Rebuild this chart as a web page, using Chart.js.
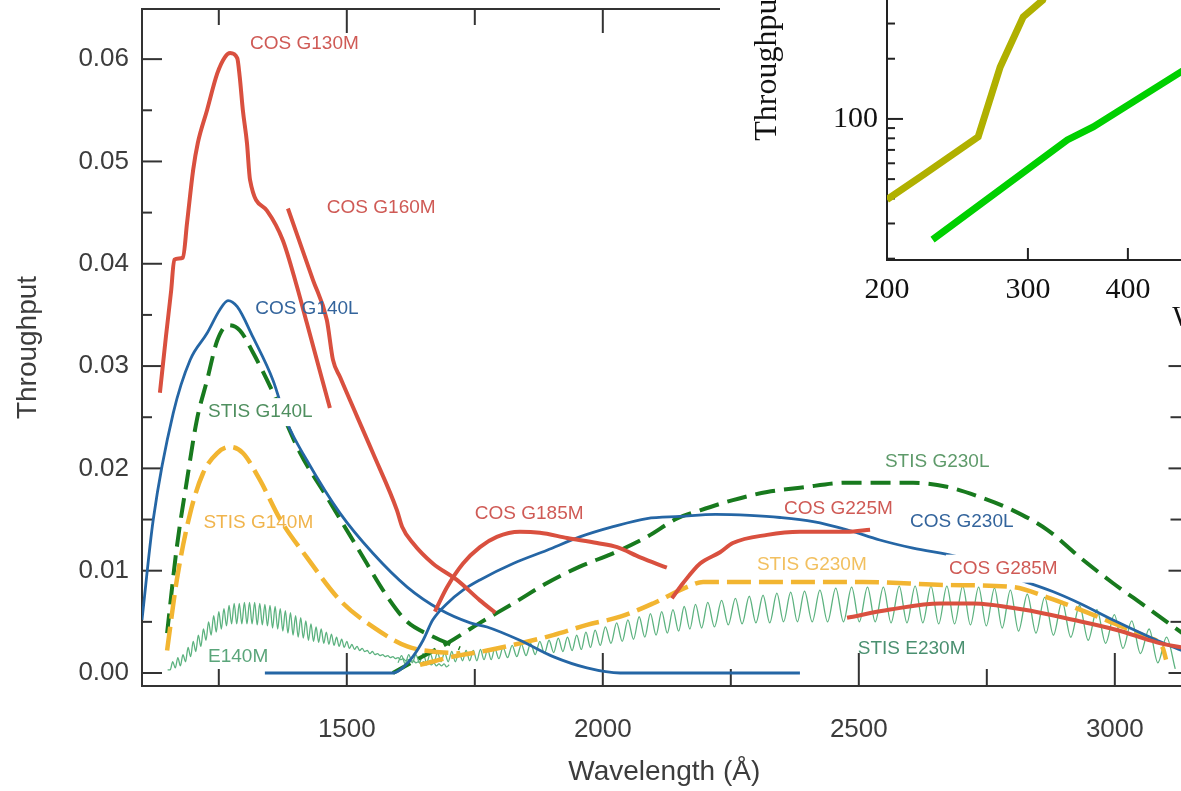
<!DOCTYPE html>
<html>
<head>
<meta charset="utf-8">
<title>Throughput</title>
<script src="https://cdn.jsdelivr.net/npm/chart.js@4.4.1/dist/chart.umd.min.js"></script>
<style>
	html, body { margin:0; padding:0; background:#fff; width:1181px; height:791px; overflow:hidden; position:relative; }
	#main { position:absolute; left:0; top:0; }
	#inset { position:absolute; left:720px; top:-135px; background:#fff; }
</style>
</head>
<body>
<canvas id="main" width="1240" height="791"></canvas>
<canvas id="inset" width="1000" height="480"></canvas>
<script>
(function(){
	// --- main panel: wavelength (Å) vs throughput ---
	const cosG130mWave = [1135,1147,1157,1163,1180,1188,1200,1209,1227,1247,1262,1272,1286,1291,1297,1305,1311,1344,1375,1403,1422,1467];
	const cosG130mThru = [0.0274,0.0330,0.0374,0.0404,0.0406,0.0440,0.0492,0.0518,0.0550,0.0586,0.0602,0.0606,0.0601,0.0582,0.0550,0.0518,0.0482,0.0452,0.0423,0.0377,0.0342,0.0259];

	const cosG160mWave = [1385,1434,1461,1473,1487,1551,1598,1608,1629,1668,1715,1760,1790];
	const cosG160mThru = [0.0454,0.0384,0.0345,0.0306,0.0289,0.0215,0.0159,0.0143,0.0127,0.0107,0.0091,0.0071,0.0059];

	const cosG185mWave = [1672,1696,1727,1760,1793,1838,1877,1930,1989,2028,2073,2125];
	const cosG185mThru = [0.0060,0.0084,0.0107,0.0123,0.0133,0.0138,0.0137,0.0132,0.0127,0.0123,0.0113,0.0103];

	const cosG225mWave = [2135,2157,2190,2229,2254,2321,2385,2477,2522];
	const cosG225mThru = [0.0073,0.0088,0.0107,0.0118,0.0127,0.0135,0.0138,0.0138,0.0140];

	const cosG285mWave = [2477,2561,2659,2723,2821,2918,3004,3082,3140];
	const cosG285mThru = [0.0054,0.0062,0.0068,0.0068,0.0062,0.0052,0.0042,0.0030,0.0024];

	const cosG140lWave = [1100,1122,1161,1194,1227,1252,1268,1286,1317,1356,1383,1422,1487,1551,1618,1682,1741,1774,1838,1903,1969,2034,2385];
	const cosG140lThru = [0.0052,0.0150,0.0254,0.0306,0.0332,0.0355,0.0364,0.0358,0.0328,0.0286,0.0245,0.0208,0.0156,0.0117,0.0084,0.0062,0.0049,0.0045,0.0032,0.0016,0.0005,0.0000,0.0000];

	const cosG230lWave = [1340,1590,1604,1629,1649,1668,1696,1727,1760,1825,1891,1955,2020,2086,2151,2220,2287,2346,2411,2477,2541,2606,2698,2815,2887,2932,3004,3082,3140];
	const cosG230lThru = [0.0000,0.0000,0.0003,0.0016,0.0032,0.0052,0.0068,0.0081,0.0091,0.0107,0.0120,0.0133,0.0143,0.0151,0.0153,0.0155,0.0154,0.0152,0.0148,0.0140,0.0130,0.0122,0.0113,0.0091,0.0078,0.0068,0.0050,0.0032,0.0020];

	const stisG140lWave = [1149,1168,1188,1207,1227,1247,1268,1291,1317,1356,1409,1461,1520,1584,1618,1662,1721];
	const stisG140lThru = [0.0039,0.0123,0.0189,0.0247,0.0286,0.0325,0.0340,0.0335,0.0313,0.0274,0.0215,0.0172,0.0123,0.0071,0.0050,0.0037,0.0024];

	const stisG230lWave = [1590,1629,1696,1760,1825,1891,1955,2020,2086,2145,2190,2254,2321,2385,2477,2606,2672,2737,2801,2868,2932,2996,3063,3140];
	const stisG230lThru = [0.0000,0.0011,0.0029,0.0049,0.0068,0.0088,0.0104,0.0117,0.0133,0.0151,0.0159,0.0169,0.0177,0.0181,0.0186,0.0186,0.0182,0.0172,0.0159,0.0140,0.0113,0.0088,0.0064,0.0036];

	const stisG140mWave = [1149,1168,1194,1219,1247,1272,1297,1330,1370,1422,1487,1551,1618,1668,1721];
	const stisG140mThru = [0.0022,0.0091,0.0156,0.0195,0.0215,0.0221,0.0215,0.0189,0.0150,0.0113,0.0071,0.0045,0.0026,0.0021,0.0019];

	const stisG230mWave = [1643,1707,1774,1838,1903,1969,2034,2098,2164,2196,2346,2508,2672,2801,2868,2932,2996,3063,3094,3100];
	const stisG230mThru = [0.0008,0.0016,0.0022,0.0029,0.0037,0.0047,0.0055,0.0068,0.0084,0.0089,0.0089,0.0089,0.0086,0.0084,0.0074,0.0062,0.0049,0.0035,0.0024,0.0013];

	// echelle modes: peaks and troughs of the ripple
	const e140mWave = [
		1150,1155,1160,1165,1170,1175,1180,1185,1190,1195,
		1200,1205,1210,1215,1220,1225,1230,1235,1240,1245,
		1250,1255,1260,1265,1270,1275,1280,1285,1290,1295,
		1300,1305,1310,1315,1320,1325,1330,1335,1340,1345,
		1350,1355,1360,1365,1370,1375,1380,1385,1390,1395,
		1400,1405,1410,1415,1420,1425,1430,1435,1440,1445,
		1450,1455,1460,1465,1470,1475,1480,1485,1490,1495,
		1500,1505,1510,1515,1520,1525,1530,1535,1540,1545,
		1550,1555,1560,1565,1570,1575,1580,1585,1590,1595,
		1600,1605,1610,1615,1620,1625,1630,1635,1640,1645,
		1650,1655,1660,1665,1670,1675,1680,1685,1690,1695,1700];
	const e140mThru = [
		0.0003,0.0003,0.0011,0.0005,0.0015,0.0007,0.0018,0.0011,0.0025,0.0016,
		0.0031,0.0021,0.0037,0.0026,0.0043,0.0032,0.0050,0.0037,0.0056,0.0040,
		0.0060,0.0043,0.0063,0.0046,0.0066,0.0048,0.0068,0.0048,0.0068,0.0048,
		0.0069,0.0048,0.0069,0.0048,0.0069,0.0047,0.0068,0.0047,0.0067,0.0046,
		0.0066,0.0044,0.0065,0.0043,0.0063,0.0041,0.0061,0.0039,0.0059,0.0037,
		0.0056,0.0035,0.0054,0.0034,0.0051,0.0032,0.0048,0.0031,0.0045,0.0030,
		0.0043,0.0029,0.0040,0.0028,0.0038,0.0027,0.0035,0.0026,0.0033,0.0025,
		0.0031,0.0024,0.0028,0.0023,0.0026,0.0022,0.0024,0.0021,0.0022,0.0019,
		0.0021,0.0018,0.0019,0.0017,0.0018,0.0016,0.0017,0.0015,0.0016,0.0014,
		0.0015,0.0013,0.0014,0.0012,0.0013,0.0011,0.0012,0.0010,0.0011,0.0009,
		0.0011,0.0008,0.0010,0.0008,0.0010,0.0007,0.0009,0.0007,0.0009,0.0006,0.0008];

	const e230mWave = [
		1600,1607,1614,1621,1628,1635,1642,1649,1656,1663,1670,1677,1684,1691,1698,1705,1712,1719,1726,1733,1740,1747,1754,1761,1768,1775,1782,1789,
		1797,1805,1814,1823,1832,1841,1850,1859,1868,1877,1886,1895,1904,1913,1922,1931,1940,1949,1958,1967,1976,1985,
		1995,2005,2016,2027,2038,2049,2060,2071,2082,2093,2104,2115,2126,2137,2148,2159,2170,2181,
		2193,2205,2218,2232,2245,2259,2272,2286,2299,2313,2326,2340,2353,2367,2380,2394,
		2409,2424,2439,2455,2470,2486,2501,2517,2532,2548,2563,2579,2594,2610,2625,2641,2656,2672,2687,2703,2718,2734,2749,2765,2780,2796,
		2812,2829,2846,2863,2880,2897,2914,2931,2948,2965,2982,2999,3016,3033,3050,3067,3084,3101,3118];
	const e230mThru = [
		0.0010,0.0017,0.0009,0.0018,0.0010,0.0018,0.0010,0.0019,0.0010,0.0019,0.0010,0.0020,0.0011,0.0020,0.0011,0.0021,0.0011,0.0021,0.0012,0.0022,0.0012,0.0022,0.0012,0.0023,0.0013,0.0023,0.0013,0.0024,
		0.0014,0.0025,0.0015,0.0027,0.0016,0.0028,0.0017,0.0029,0.0018,0.0031,0.0019,0.0032,0.0020,0.0034,0.0021,0.0035,0.0022,0.0037,0.0023,0.0040,0.0025,0.0042,
		0.0027,0.0045,0.0029,0.0049,0.0031,0.0052,0.0033,0.0055,0.0035,0.0058,0.0037,0.0060,0.0039,0.0062,0.0041,0.0065,0.0043,0.0067,
		0.0044,0.0069,0.0045,0.0071,0.0047,0.0073,0.0048,0.0075,0.0049,0.0076,0.0049,0.0078,0.0050,0.0079,0.0050,0.0080,
		0.0050,0.0081,0.0050,0.0083,0.0050,0.0084,0.0050,0.0084,0.0050,0.0084,0.0049,0.0085,0.0049,0.0085,0.0049,0.0085,0.0048,0.0085,0.0048,0.0085,0.0047,0.0084,0.0046,0.0083,0.0044,0.0081,
		0.0041,0.0077,0.0039,0.0074,0.0037,0.0070,0.0035,0.0066,0.0032,0.0062,0.0029,0.0057,0.0024,0.0051,0.0019,0.0043,0.0010,0.0035,0.0004];

	const xTicks = [1500, 2000, 2500, 3000];
	const xMinorTicks = [1250, 1750, 2250, 2750];
	const yTicks = [0, 0.01, 0.02, 0.03, 0.04, 0.05, 0.06];
	const yMinorTicks = [0.005, 0.015, 0.025, 0.035, 0.045, 0.055];

	// --- inset (log-log), partly cut off by the frame ---
	const insetOliveX = [200, 222, 260, 277, 296, 313, 330];
	const insetOliveY = [39.5, 52.5, 81.3, 182, 324, 393, 700];
	const insetGreenX = [228, 336, 362, 466, 568];
	const insetGreenY = [24.9, 78.5, 91.2, 172, 282];
	const insetXTicks = [200, 300, 400, 500];
	const insetYTicks = [100];
	const insetXMinor = [300, 400, 500, 600, 700, 800, 900, 1000];
	const insetYMinor = [20, 30, 40, 50, 60, 70, 80, 90, 200, 300, 400, 500, 600, 700, 800, 900];

	const SANS = '"Liberation Sans", Arial, Helvetica, sans-serif';
	const SERIF = '"Liberation Serif", "Times New Roman", serif';

	const RED = '#d9503f';
	const BLUE = '#2566a5';
	const DKGREEN = '#187a1e';
	const ORANGE = '#f2b531';
	const ECHELLE = '#5cb27f';

	// labels sit at (wavelength, throughput) of their left/middle point
	const curveLabels = [
		{text:'COS G130M', at:[1311, 0.0615], color:'#cf5a55'},
		{text:'COS G160M', at:[1461, 0.0455], color:'#cf5a55'},
		{text:'COS G140L', at:[1321, 0.0356], color:'#33649c'},
		{text:'STIS G140L', at:[1229, 0.0255], color:'#4f8f5f', box:true},
		{text:'STIS G140M', at:[1220, 0.0147], color:'#f0b44c'},
		{text:'E140M', at:[1229, 0.0016], color:'#5aa57a'},
		{text:'COS G185M', at:[1750, 0.0156], color:'#cf5a55'},
		{text:'COS G225M', at:[2354, 0.0161], color:'#cf5a55'},
		{text:'COS G230L', at:[2600, 0.0148], color:'#33649c'},
		{text:'STIS G230L', at:[2551, 0.0206], color:'#5e9a6a'},
		{text:'STIS G230M', at:[2301, 0.0106], color:'#f2c060'},
		{text:'COS G285M', at:[2676, 0.0102], color:'#cf5a55', box:true},
		{text:'STIS E230M', at:[2498, 0.0024], color:'#4a9070'}
	];

	function pts(xs, ys){
		return xs.map((x, i) => ({x: x, y: ys[i]}));
	}

	function curve(label, xs, ys, color, width, dash){
		return {
			label: label,
			data: pts(xs, ys),
			borderColor: color,
			borderWidth: width,
			borderDash: dash || [],
			borderCapStyle: 'butt',
			borderJoinStyle: 'round',
			pointRadius: 0,
			fill: false,
			cubicInterpolationMode: 'monotone'
		};
	}

	function tick(ctx, x1, y1, x2, y2){
		ctx.beginPath();
		ctx.moveTo(x1, y1);
		ctx.lineTo(x2, y2);
		ctx.stroke();
	}

	// frame with inward ticks on all four sides
	const mainFrame = {
		id: 'mainFrame',
		beforeDatasetsDraw(chart){
			const {ctx, chartArea: a, scales: {x, y}} = chart;
			ctx.save();
			ctx.strokeStyle = '#333';
			ctx.lineWidth = 2;
			ctx.strokeRect(a.left, a.top, a.right - a.left, a.bottom - a.top);
			yTicks.forEach(v => {
				const py = y.getPixelForValue(v);
				tick(ctx, a.left, py, a.left + 20, py);
				tick(ctx, a.right, py, a.right - 18, py);
			});
			yMinorTicks.forEach(v => {
				const py = y.getPixelForValue(v);
				tick(ctx, a.left, py, a.left + 10, py);
				tick(ctx, a.right, py, a.right - 16, py);
			});
			xTicks.forEach(v => {
				const px = x.getPixelForValue(v);
				tick(ctx, px, a.bottom, px, a.bottom - 33);
				tick(ctx, px, a.top, px, a.top + 24);
			});
			xMinorTicks.forEach(v => {
				const px = x.getPixelForValue(v);
				tick(ctx, px, a.bottom, px, a.bottom - 17);
				tick(ctx, px, a.top, px, a.top + 16);
			});
			ctx.restore();
		},
		afterDatasetsDraw(chart){
			const {ctx, scales: {x, y}} = chart;
			ctx.save();
			ctx.font = '19px ' + SANS;
			ctx.textAlign = 'left';
			ctx.textBaseline = 'middle';
			curveLabels.forEach(l => {
				const px = x.getPixelForValue(l.at[0]);
				const py = y.getPixelForValue(l.at[1]);
				if(l.box){
					const w = ctx.measureText(l.text).width;
					ctx.fillStyle = '#fff';
					ctx.fillRect(px - 3, py - 14, w + 6, 28);
				}
				ctx.fillStyle = l.color;
				ctx.fillText(l.text, px, py);
			});
			ctx.restore();
		}
	};

	new Chart(document.getElementById('main').getContext('2d'), {
		type: 'line',
		data: {
			datasets: [
				curve('COS G130M', cosG130mWave, cosG130mThru, RED, 4),
				curve('COS G160M', cosG160mWave, cosG160mThru, RED, 4),
				curve('COS G185M', cosG185mWave, cosG185mThru, RED, 4),
				curve('COS G225M', cosG225mWave, cosG225mThru, RED, 4),
				curve('COS G285M', cosG285mWave, cosG285mThru, RED, 4),
				curve('COS G140L', cosG140lWave, cosG140lThru, BLUE, 2.8),
				curve('COS G230L', cosG230lWave, cosG230lThru, BLUE, 2.8),
				curve('STIS G140M', stisG140mWave, stisG140mThru, ORANGE, 4.5, [24, 8]),
				curve('STIS G230M', stisG230mWave, stisG230mThru, ORANGE, 4.5, [24, 8]),
				curve('STIS G140L', stisG140lWave, stisG140lThru, DKGREEN, 4, [20, 9]),
				curve('STIS G230L', stisG230lWave, stisG230lThru, DKGREEN, 4, [20, 9]),
				curve('E140M', e140mWave, e140mThru, ECHELLE, 1.3),
				curve('STIS E230M', e230mWave, e230mThru, ECHELLE, 1.3)
			]
		},
		options: {
			responsive: false,
			animation: false,
			devicePixelRatio: 1,
			events: [],
			layout: { autoPadding: false, padding: {left: 0, top: 9, right: 53.5, bottom: 0} },
			plugins: { legend: {display: false}, tooltip: {enabled: false} },
			scales: {
				x: {
					type: 'linear',
					min: 1100,
					max: 3140,
					afterBuildTicks: s => { s.ticks = xTicks.map(v => ({value: v})); },
					afterFit: s => { s.height = 105; s.paddingLeft = 0; s.paddingRight = 0; },
					grid: {display: false, drawTicks: false},
					border: {display: false},
					ticks: {
						autoSkip: false, maxRotation: 0, padding: 28,
						color: '#3c3c3c', font: {family: SANS, size: 26},
						callback: v => String(v)
					},
					title: {
						display: true, text: 'Wavelength (Å)', color: '#3c3c3c',
						font: {family: SANS, size: 28}, padding: {top: 0, bottom: 2}
					}
				},
				y: {
					type: 'linear',
					min: -0.00127,
					max: 0.0649,
					afterBuildTicks: s => { s.ticks = yTicks.map(v => ({value: v})); },
					afterFit: s => { s.width = 142; s.paddingTop = 0; s.paddingBottom = 0; },
					grid: {display: false, drawTicks: false},
					border: {display: false},
					ticks: {
						autoSkip: false, padding: 13,
						color: '#3c3c3c', font: {family: SANS, size: 26},
						callback: v => v.toFixed(2)
					},
					title: {
						display: true, text: 'Throughput', color: '#3c3c3c',
						font: {family: SANS, size: 28}, padding: {top: 11, bottom: 0}
					}
				}
			}
		},
		plugins: [mainFrame]
	});

	// inset axes: left and bottom only, ticks pointing in
	const insetFrame = {
		id: 'insetFrame',
		beforeDatasetsDraw(chart){
			const {ctx, chartArea: a, scales: {x, y}} = chart;
			ctx.save();
			ctx.strokeStyle = '#222';
			ctx.lineWidth = 2;
			ctx.beginPath();
			ctx.moveTo(a.left, a.top);
			ctx.lineTo(a.left, a.bottom);
			ctx.lineTo(a.right, a.bottom);
			ctx.stroke();
			insetYTicks.forEach(v => {
				const py = y.getPixelForValue(v);
				tick(ctx, a.left, py, a.left + 16, py);
			});
			insetYMinor.forEach(v => {
				const py = y.getPixelForValue(v);
				tick(ctx, a.left, py, a.left + 8, py);
			});
			insetXMinor.forEach(v => {
				const px = x.getPixelForValue(v);
				tick(ctx, px, a.bottom, px, a.bottom - 12);
			});
			ctx.restore();
		}
	};

	function insetLine(xs, ys, color){
		return {
			data: pts(xs, ys),
			borderColor: color,
			borderWidth: 7,
			borderCapStyle: 'butt',
			borderJoinStyle: 'miter',
			pointRadius: 0,
			fill: false,
			tension: 0
		};
	}

	new Chart(document.getElementById('inset').getContext('2d'), {
		type: 'line',
		data: {
			datasets: [
				insetLine(insetGreenX, insetGreenY, '#00d000'),
				insetLine(insetOliveX, insetOliveY, '#b0b000')
			]
		},
		options: {
			responsive: false,
			animation: false,
			devicePixelRatio: 1,
			events: [],
			layout: { autoPadding: false, padding: {left: 0, top: 5.4, right: 54.3, bottom: 0} },
			plugins: { legend: {display: false}, tooltip: {enabled: false} },
			scales: {
				x: {
					type: 'logarithmic',
					min: 200,
					max: 1880,
					afterBuildTicks: s => { s.ticks = insetXTicks.map(v => ({value: v})); },
					afterFit: s => { s.height = 85; s.paddingLeft = 0; s.paddingRight = 0; },
					grid: {display: false, drawTicks: false},
					border: {display: false},
					ticks: {
						autoSkip: false, maxRotation: 0, padding: 12,
						color: '#111', font: {family: SERIF, size: 30},
						callback: v => String(v)
					},
					title: {
						display: true, text: 'Wavelength (nm)', color: '#111',
						font: {family: SERIF, size: 30}, padding: {top: 0, bottom: 9}
					}
				},
				y: {
					type: 'logarithmic',
					min: 19.7,
					max: 1750,
					afterBuildTicks: s => { s.ticks = insetYTicks.map(v => ({value: v})); },
					afterFit: s => { s.width = 167; s.paddingTop = 0; s.paddingBottom = 0; },
					grid: {display: false, drawTicks: false},
					border: {display: false},
					ticks: {
						autoSkip: false, padding: 9,
						color: '#111', font: {family: SERIF, size: 30},
						callback: v => String(v)
					},
					title: {
						display: true, text: 'Throughput', color: '#111',
						font: {family: SERIF, size: 32}, padding: {top: 28.8, bottom: 0}
					}
				}
			}
		},
		plugins: [insetFrame]
	});
})();
</script>
</body>
</html>
